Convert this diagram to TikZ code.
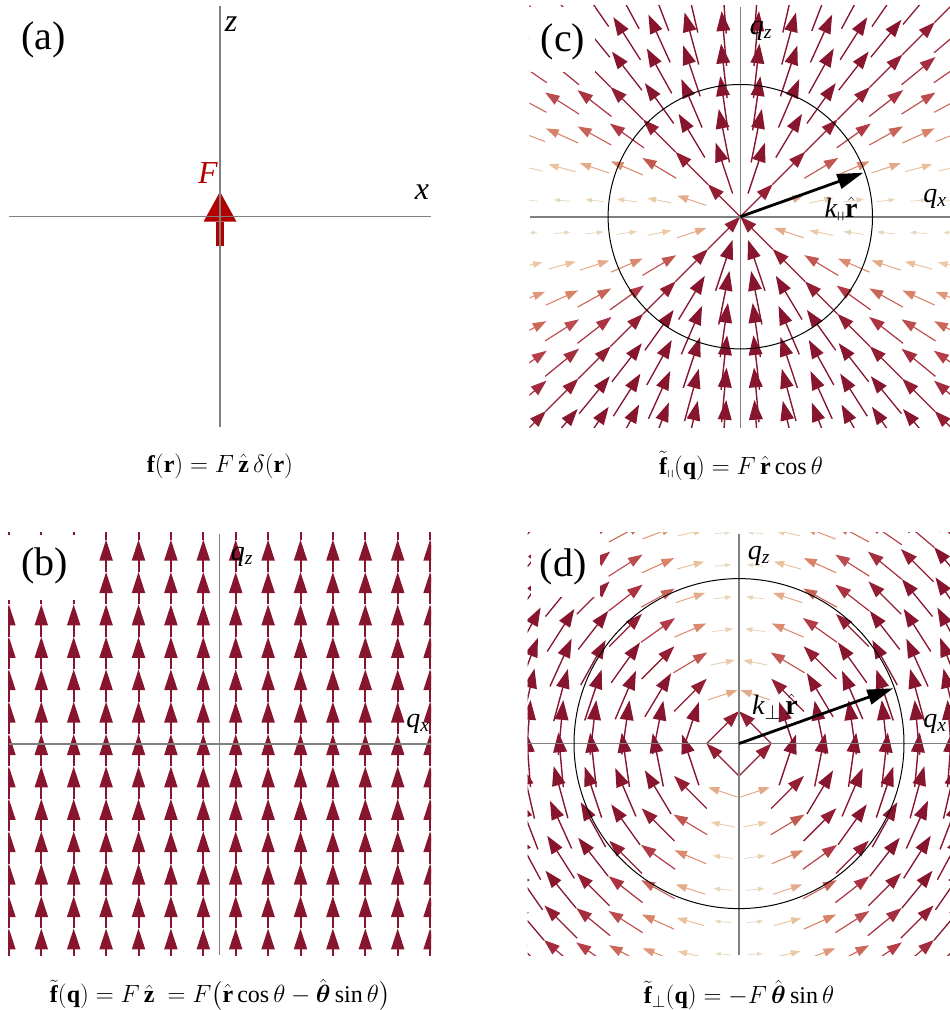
\documentclass[tikz,border=0pt]{standalone}
\usepackage{amsmath}
\usepackage{amssymb}
\usepackage{fontspec}
\setmainfont{Liberation Serif}
\usetikzlibrary{arrows.meta, calc}
\definecolor{ramp0}{RGB}{228,226,205}
\definecolor{ramp1}{RGB}{236,198,162}
\definecolor{ramp2}{RGB}{216,128,100}
\definecolor{ramp3}{RGB}{178,58,70}
\definecolor{ramp4}{RGB}{136,21,46}
\definecolor{forcered}{RGB}{178,0,0}
\definecolor{axisgray}{RGB}{128,128,128}
\newcommand\setvcol[1]{%
  \pgfmathtruncatemacro\fs{#1<0.25 ? 0 : (#1<0.42 ? 1 : (#1<0.58 ? 2 : 3))}%
  \pgfmathsetmacro\ft{#1<0.25 ? #1/0.25 : (#1<0.42 ? (#1-0.25)/0.17 : (#1<0.58 ? (#1-0.42)/0.16 : min((#1-0.58)/0.17,1)))}%
  \pgfmathtruncatemacro\fn{\fs+1}%
  \pgfmathsetmacro\fp{100-100*\ft}%
  \colorlet{vcol}{ramp\fs!\fp!ramp\fn}}
\newcommand\vecarrow[5]{%
  \setvcol{#5}%
  \pgfmathsetmacro\fL{55*sqrt(#5)}%
  \pgfmathsetmacro\fh{0.36*\fL}%
  \pgfmathsetmacro\fw{0.25*\fL}%
  \pgfmathsetmacro\flw{0.5+0.9*sqrt(#5)}%
  \pgfmathsetmacro\xa{#1-0.5*\fL*(#3)}%
  \pgfmathsetmacro\ya{#2-0.5*\fL*(#4)}%
  \pgfmathsetmacro\xb{#1+0.5*\fL*(#3)}%
  \pgfmathsetmacro\yb{#2+0.5*\fL*(#4)}%
  \draw[vcol, line width=\flw pt, -{Triangle[length=\fh pt, width=\fw pt]}] (\xa,\ya) -- (\xb,\yb);}

\begin{document}
\begin{tikzpicture}[x=1pt, y=-1pt,
  axisline/.style={draw=axisgray, line width=1.6pt},
  panellabel/.style={font=\fontsize{40}{40}\selectfont},
  axislabel/.style={font=\fontsize{32}{32}\selectfont},
  qlabel/.style={font=\fontsize{28}{28}\selectfont},
  caption/.style={font=\fontsize{24}{24}\selectfont},
  labelbox/.style={fill=white},
  karrow/.style={line width=2.8pt, -{Triangle[length=26pt, width=15pt]}},
  zarrow/.style={draw=ramp4, line width=2pt, -{Triangle[length=21pt, width=13pt]}}]
\useasboundingbox (0,0) rectangle (950,1010);

\fill[forcered] (203.5,221.7) -- (220,191.7) -- (236.5,221.7) -- cycle;
\fill[forcered] (216,221.7) rectangle (224,245.7);
\coordinate (a-top) at (219.8,5.5);
\coordinate (a-bot) at (219.8,427);
\coordinate (a-left) at (8.5,216.5);
\coordinate (a-right) at (431,216.5);
\draw[axisline] (a-top) -- (a-bot);
\draw[axisline] (a-left) -- (a-right);
\node[panellabel] (lab-a) at (43.5,40) {(a)};
\node[axislabel] (lab-z) at (231,24) {$\mathit{z}$};
\node[axislabel] (lab-x) at (422,192) {$\mathit{x}$};
\node[axislabel, text=forcered] (lab-F) at (208,173) {$\mathit{F}$};
\node[caption] (cap-a) at (220,466) {$\mathbf{f}(\mathbf{r}) = F\,\hat{\mathbf{z}}\,\delta(\mathbf{r})$};

\begin{scope}
\clip (8,532) rectangle (431,955);
\foreach \i in {0,...,13} \foreach \j in {-7,...,7} {
  \pgfmathsetmacro\qx{219.5+32.4*(\i-6.5)}
  \pgfmathsetmacro\qy{734+32.4*(\j)}
  \pgfmathsetmacro\qt{\qy+32.4}
  \draw[zarrow] (\qx,\qt) -- (\qx,\qy);
}
\fill[labelbox] (7,535) rectangle (81,600);
\end{scope}
\coordinate (b-top) at (219.5,534);
\coordinate (b-bot) at (219.5,955);
\coordinate (b-left) at (8.5,743.7);
\coordinate (b-right) at (431,743.7);
\draw[axisline] (b-top) -- (b-bot);
\draw[axisline] (b-left) -- (b-right);
\node[panellabel] (lab-b) at (45,566) {(b)};
\node[qlabel] (lab-bqz) at (242,557) {$\mathit{q}_{\mathit{z}}$};
\node[qlabel] (lab-bqx) at (418,724) {$\mathit{q}_{\mathit{x}}$};
\node[caption] (cap-b) at (220,995) {$\tilde{\mathbf{f}}(\mathbf{q}) = F\,\hat{\mathbf{z}}\ = F\bigl(\hat{\mathbf{r}}\cos\theta - \hat{\boldsymbol{\theta}}\sin\theta\bigr)$};

\begin{scope}
\clip (529.3,5.7) rectangle (951.3,427.7);
\foreach \i in {0,...,13} \foreach \j in {0,...,13} {
  \pgfmathsetmacro\qa{\i-6.5}
  \pgfmathsetmacro\qb{6.5-\j}
  \pgfmathsetmacro\qr{sqrt(\qa*\qa+\qb*\qb)}
  \pgfmathsetmacro\qm{abs(\qb)/\qr}
  \pgfmathsetmacro\qs{\qb<0 ? -1 : 1}
  \pgfmathsetmacro\qdx{\qs*(\qa)/\qr}
  \pgfmathsetmacro\qdy{-\qs*(\qb)/\qr}
  \pgfmathsetmacro\qx{740.3+32.4*(\qa)}
  \pgfmathsetmacro\qy{216.7-32.4*(\qb)}
  \vecarrow{\qx}{\qy}{\qdx}{\qdy}{\qm}
}
\fill[labelbox] (529,7) rectangle (595,72);
\end{scope}
\coordinate (oc) at (740.3,216.7);
\coordinate (kc) at (863.3,172.7);
\coordinate (c-top) at (740.3,6.5);
\coordinate (c-bot) at (740.3,427.7);
\coordinate (c-left) at (530,216.7);
\coordinate (c-right) at (950,216.7);
\draw[axisline] (c-top) -- (c-bot);
\draw[axisline] (c-left) -- (c-right);
\draw[line width=1pt] (oc) circle[radius=132.2];
\draw[karrow] (oc) -- (kc);
\node[panellabel] (lab-c) at (563,42) {(c)};
\node[qlabel] (lab-cqz) at (761,31) {$\mathit{q}_{\mathit{z}}$};
\node[qlabel] (lab-cqx) at (935,199) {$\mathit{q}_{\mathit{x}}$};
\node[qlabel] (lab-kc) at (841,210) {$\mathit{k}_{\shortparallel}\hat{\mathbf{r}}$};
\node[caption] (cap-c) at (741,466) {$\tilde{\mathbf{f}}_{\shortparallel}(\mathbf{q}) = F\,\hat{\mathbf{r}}\cos\theta$};

\begin{scope}
\clip (527.7,532.3) rectangle (950.3,955);
\foreach \i in {0,...,13} \foreach \j in {0,...,13} {
  \pgfmathsetmacro\qa{\i-6.5}
  \pgfmathsetmacro\qb{6.5-\j}
  \pgfmathsetmacro\qr{sqrt(\qa*\qa+\qb*\qb)}
  \pgfmathsetmacro\qm{abs(\qa)/\qr}
  \pgfmathsetmacro\qs{\qa<0 ? -1 : 1}
  \pgfmathsetmacro\qdx{-\qs*(\qb)/\qr}
  \pgfmathsetmacro\qdy{-abs(\qa)/\qr}
  \pgfmathsetmacro\qx{739+32.4*(\qa)}
  \pgfmathsetmacro\qy{743.6-32.4*(\qb)}
  \vecarrow{\qx}{\qy}{\qdx}{\qdy}{\qm}
}
\fill[labelbox] (531,532) rectangle (600,597);
\end{scope}
\coordinate (od) at (739,743.6);
\coordinate (kd) at (893.3,688.3);
\coordinate (d-top) at (739,534);
\coordinate (d-bot) at (739,955);
\coordinate (d-left) at (527.5,743.6);
\coordinate (d-right) at (950,743.6);
\draw[axisline] (d-top) -- (d-bot);
\draw[axisline] (d-left) -- (d-right);
\draw[line width=1pt] (od) circle[radius=165];
\draw[karrow] (od) -- (kd);
\node[panellabel] (lab-d) at (563,567) {(d)};
\node[qlabel] (lab-dqz) at (759,556) {$\mathit{q}_{\mathit{z}}$};
\node[qlabel] (lab-dqx) at (935,724) {$\mathit{q}_{\mathit{x}}$};
\node[qlabel] (lab-kd) at (775,707) {$\mathit{k}_\perp\,\hat{\mathbf{r}}$};
\node[caption] (cap-d) at (739,995) {$\tilde{\mathbf{f}}_\perp(\mathbf{q}) = -F\,\hat{\boldsymbol{\theta}}\sin\theta$};
\end{tikzpicture}
\end{document}
